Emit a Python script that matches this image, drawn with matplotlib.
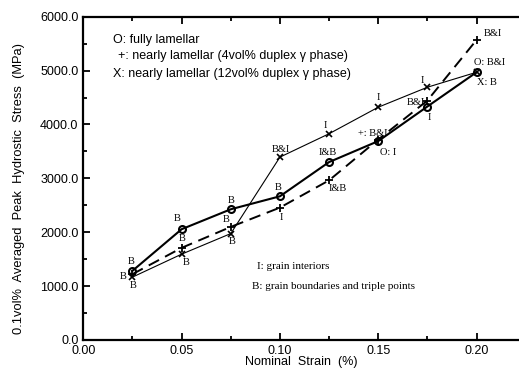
import matplotlib
matplotlib.use("Agg")
import matplotlib.pyplot as plt
from matplotlib.ticker import MultipleLocator, FormatStrFormatter

# ---- data ----
strain = [0.025, 0.05, 0.075, 0.10, 0.125, 0.15, 0.175, 0.20]
fully_lamellar = [1284, 2056, 2426, 2667, 3302, 3691, 4333, 4969]
nearly_4vol = [1222, 1710, 2099, 2457, 2963, 3720, 4444, 5568]
nearly_12vol = [1167, 1593, 1975, 3394, 3828, 4320, 4691, 4969]

labels_O = ["B", "B", "B", "B", "I&B", "O: I", "I", "O: B&I"]
labels_P = ["B", "B", "B", "I", "I&B", "+: B&I", "B&I", "B&I"]
labels_X = ["B", "B", "B", "B&I", "I", "I", "I", "X: B"]

legend_lines = ["O: fully lamellar",
                "+: nearly lamellar (4vol% duplex \u03b3 phase)",
                "X: nearly lamellar (12vol% duplex \u03b3 phase)"]
note_lines = ["I: grain interiors", "B: grain boundaries and triple points"]

# label offsets in pixels (dx, dy)
off_O = [(-1, 9), (-4, 11), (0, 9), (-2, 9), (-1, 10), (10, -11), (2, -11), (13, 10)]
off_P = [(-9, -2), (1, 9), (-5, 7), (1, -10), (9, -8), (-5, 6), (-12, -2), (16, 6)]
off_X = [(1, -8), (5, -8), (1, -8), (1, 8), (-4, 8), (0, 10), (-5, 7), (10, -10)]

fig = plt.figure(figsize=(5.19, 3.70), dpi=100)
ax = fig.add_axes([83.3 / 519, 1 - 340 / 370, 1 - 83.3 / 519, (340 - 16.7) / 370])

ax.plot(strain, fully_lamellar, color="black", lw=1.5, marker="o", ms=5,
        mfc="none", mec="black", mew=1.5)
ax.plot(strain, nearly_4vol, color="black", lw=1.4, ls=(0, (6, 3.5)),
        marker="+", ms=6, mew=1.3)
ax.plot(strain, nearly_12vol, color="black", lw=0.8, marker="x", ms=4.5, mew=1.2)

serif = ["Liberation Serif", "DejaVu Serif"]
for xs, ys, labs, offs in [(strain, fully_lamellar, labels_O, off_O),
                           (strain, nearly_4vol, labels_P, off_P),
                           (strain, nearly_12vol, labels_X, off_X)]:
    for x, y, t, (dx, dy) in zip(xs, ys, labs, offs):
        ax.annotate(t, (x, y), xytext=(dx, dy), textcoords="offset pixels",
                    ha="center", va="center", fontsize=7.5, family=serif)

sans = ["Liberation Sans", "DejaVu Sans"]
for i, t in enumerate(legend_lines):
    xpx = 113 if i != 1 else 118
    ypx = 39.5 + i * 17
    fig.text(xpx / 519, 1 - ypx / 370, t, ha="left", va="center",
             fontsize=9, family=sans)

for i, (t, xpx) in enumerate(zip(note_lines, [257, 252])):
    ypx = 266.5 + i * 20
    fig.text(xpx / 519, 1 - ypx / 370, t, ha="left", va="center",
             fontsize=8, family=serif)

ax.set_xlim(0, 0.2216)
ax.set_ylim(0, 6000)
ax.xaxis.set_major_locator(MultipleLocator(0.05))
ax.xaxis.set_minor_locator(MultipleLocator(0.025))
ax.yaxis.set_major_locator(MultipleLocator(1000))
ax.yaxis.set_minor_locator(MultipleLocator(500))
ax.xaxis.set_major_formatter(FormatStrFormatter("%.2f"))
ax.yaxis.set_major_formatter(FormatStrFormatter("%.1f"))

ax.tick_params(which="both", direction="in", top=True, right=False,
               labelsize=9, width=1.3)
ax.tick_params(which="major", length=5)
ax.tick_params(which="minor", length=3)
for lab in ax.get_xticklabels() + ax.get_yticklabels():
    lab.set_family(sans)

for s in ["left", "bottom", "top"]:
    ax.spines[s].set_linewidth(1.6)
ax.spines["right"].set_visible(False)

ax.set_xlabel("Nominal  Strain  (%)", fontsize=9, family=sans)
ax.xaxis.label.set_va("center")
ax.xaxis.set_label_coords(0.5, (340 - 362) / 323.3)
ax.set_ylabel("0.1vol%  Averaged  Peak  Hydrostic  Stress  (MPa)", fontsize=9.3,
              family=sans)
ax.yaxis.set_label_coords((25 - 83.3) / 435.7, 0.47)

fig.savefig("out.png", dpi=100)
